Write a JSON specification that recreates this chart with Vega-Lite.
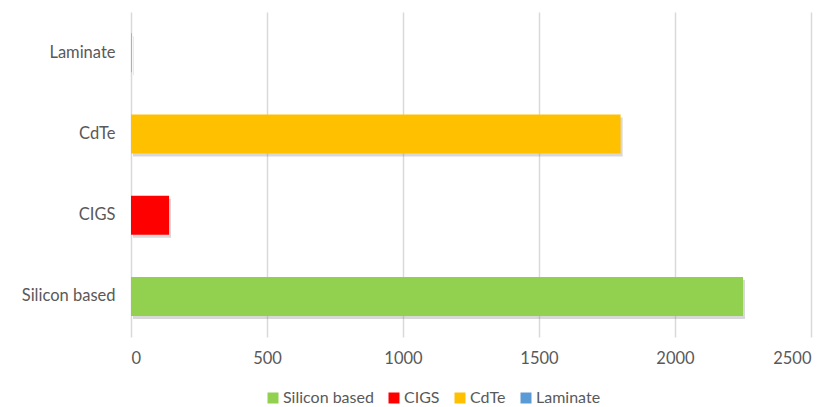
{
  "$schema": "https://vega.github.io/schema/vega-lite/v6.json",
  "autosize": "none",
  "width": 680,
  "height": 325,
  "padding": {"left": 131, "top": 12, "right": 18, "bottom": 70},
  "background": "white",
  "config": {
    "view": {"stroke": null},
    "font": "Lato"
  },
  "data": {
    "values": [
      {"type": "Silicon based", "value": 2250},
      {"type": "CIGS", "value": 140},
      {"type": "CdTe", "value": 1800},
      {"type": "Laminate", "value": 2}
    ]
  },
  "encoding": {
    "y": {
      "field": "type",
      "type": "nominal",
      "sort": ["Laminate", "CdTe", "CIGS", "Silicon based"],
      "scale": {"paddingInner": 0.52, "paddingOuter": 0.26},
      "axis": {
        "title": null,
        "domain": false,
        "ticks": false,
        "labelPadding": 16,
        "labelFontSize": 16.5,
        "labelColor": "#595959",
        "labelFont": "Lato"
      }
    },
    "x": {
      "field": "value",
      "type": "quantitative",
      "scale": {"domain": [0, 2500], "nice": false},
      "axis": {
        "title": null,
        "domain": false,
        "ticks": false,
        "format": "d",
        "values": [0, 500, 1000, 1500, 2000, 2500],
        "grid": true,
        "gridColor": "#D9D9D9",
        "gridWidth": 1.5,
        "labelPadding": 13,
        "labelFontSize": 16.5,
        "labelColor": "#595959",
        "labelFont": "Lato"
      }
    }
  },
  "layer": [
    {
      "mark": {"type": "bar", "color": "#7f7f7f", "opacity": 0.3, "xOffset": 2, "yOffset": 3},
      "encoding": {}
    },
    {
      "mark": {"type": "bar"},
      "encoding": {
        "color": {
          "field": "type",
          "type": "nominal",
          "scale": {
            "domain": ["Silicon based", "CIGS", "CdTe", "Laminate"],
            "range": ["#92D050", "#FF0000", "#FFC000", "#5B9BD5"]
          },
          "legend": {
            "title": null,
            "orient": "none",
            "direction": "horizontal",
            "legendX": 134,
            "legendY": 378,
            "symbolType": "square",
            "symbolSize": 121,
            "symbolStrokeWidth": 0,
            "labelFontSize": 16,
            "labelColor": "#595959",
            "labelFont": "Lato",
            "labelOffset": 2,
            "columnPadding": 12
          }
        }
      }
    }
  ]
}
